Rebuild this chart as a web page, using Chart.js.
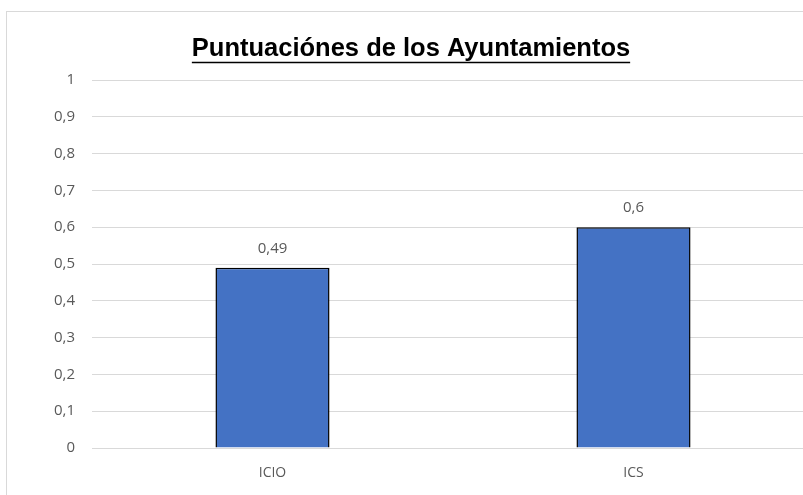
<!DOCTYPE html>
<html>
<head>
<meta charset="utf-8">
<script src="https://cdn.jsdelivr.net/npm/chart.js@4/dist/chart.umd.min.js"></script>
<style>
  html, body { margin: 0; padding: 0; background: #fff; overflow: hidden; width: 803px; height: 495px; }
  #frame { position: absolute; left: 6px; top: 11px; width: 900px; height: 600px; border: 1px solid #d9d9d9; box-sizing: border-box; }
  #wrap { position: absolute; left: 0; top: 0; width: 830px; height: 495px; }
</style>
</head>
<body>
<div id="frame"></div>
<div id="wrap"><canvas id="c" width="830" height="495"></canvas></div>
<script>
const chartTitle = 'Puntuaciónes de los Ayuntamientos';
const categories = ['ICIO', 'ICS'];
const values = [0.49, 0.6];
const yTicks = [0, 0.1, 0.2, 0.3, 0.4, 0.5, 0.6, 0.7, 0.8, 0.9, 1];

const fmt = v => String(Math.round(v * 100) / 100).replace('.', ',');
const labelFont = '"Open Sans", "Liberation Sans", sans-serif';
const titleFont = 'bold 25.5px "Liberation Sans", sans-serif';

const underlinePlugin = {
  id: 'underline',
  afterDraw(chart) {
    const t = chart.titleBlock;
    if (!t) return;
    const ctx = chart.ctx;
    ctx.save();
    ctx.font = titleFont;
    const w = ctx.measureText(chartTitle).width;
    const cx = (t.left + t.right) / 2;
    ctx.strokeStyle = '#000';
    ctx.lineWidth = 1.5;
    ctx.beginPath();
    ctx.moveTo(cx - w / 2, 62.5);
    ctx.lineTo(cx + w / 2, 62.5);
    ctx.stroke();
    ctx.restore();
  }
};

const valueLabels = {
  id: 'valueLabels',
  afterDatasetsDraw(chart) {
    const ctx = chart.ctx;
    const meta = chart.getDatasetMeta(0);
    ctx.save();
    ctx.font = '15px ' + labelFont;
    ctx.fillStyle = '#595959';
    ctx.textAlign = 'center';
    ctx.textBaseline = 'middle';
    meta.data.forEach((bar, i) => {
      ctx.fillText(fmt(values[i]), bar.x, bar.y - 19);
    });
    ctx.restore();
  }
};

new Chart(document.getElementById('c'), {
  type: 'bar',
  data: {
    labels: categories,
    datasets: [{
      data: values,
      backgroundColor: '#4472C4',
      borderColor: '#000000',
      borderWidth: 1.5,
      categoryPercentage: 1,
      barPercentage: 0.316
    }]
  },
  options: {
    responsive: false,
    animation: false,
    layout: { padding: { left: 8, right: 16, top: 0, bottom: 0 } },
    plugins: {
      legend: { display: false },
      tooltip: { enabled: false },
      title: {
        display: true,
        text: chartTitle,
        color: '#000',
        font: { family: '"Liberation Sans", sans-serif', size: 25.5, weight: 'bold', lineHeight: 1.2 },
        padding: { top: 34, bottom: 15.4 }
      }
    },
    scales: {
      x: {
        grid: { display: false, drawTicks: false },
        border: { display: false },
        ticks: { color: '#595959', font: { family: labelFont, size: 14 }, padding: 17 },
        afterFit(s) { s.height = 47; }
      },
      y: {
        min: 0,
        max: 1,
        afterBuildTicks(s) { s.ticks = yTicks.map(v => ({ value: v })); },
        grid: { color: '#d9d9d9', lineWidth: 1, drawTicks: false },
        border: { display: false },
        ticks: { color: '#595959', font: { family: labelFont, size: 15 }, padding: 17, callback: v => fmt(v) },
        afterFit(s) { s.width = 84; }
      }
    }
  },
  plugins: [underlinePlugin, valueLabels]
});
</script>
</body>
</html>
